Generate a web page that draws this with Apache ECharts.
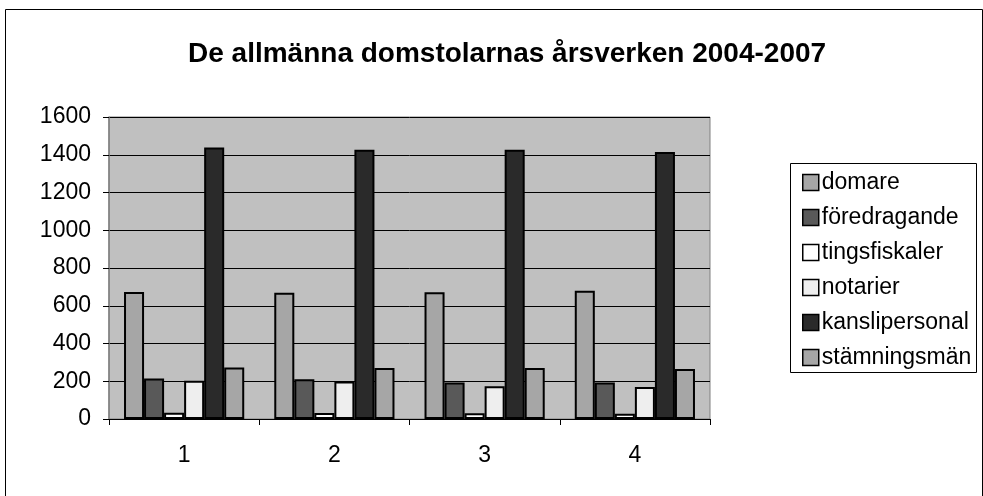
<!DOCTYPE html>
<html>
<head>
<meta charset="utf-8">
<script src="https://cdn.jsdelivr.net/npm/echarts@6/dist/echarts.min.js"></script>
<style>
  html, body { margin: 0; padding: 0; background: #fff; }
  #chart { width: 983px; height: 496px; }
</style>
</head>
<body>
<div id="chart"></div>
<script>
// kategorier (år 2004-2007 visas som 1-4)
const categories = ['1', '2', '3', '4'];

const domare = [673, 669, 671, 680];
const foredragande = [215, 210, 194, 194];
const tingsfiskaler = [33, 32, 30, 28];
const notarier = [203, 199, 173, 170];
const kanslipersonal = [1439, 1427, 1427, 1415];
const stamningsman = [273, 270, 270, 265];

const yTicks = [0, 200, 400, 600, 800, 1000, 1200, 1400, 1600];

const font = '"Liberation Sans", Arial, sans-serif';

const chart = echarts.init(document.getElementById('chart'));

const mkSeries = (name, data, color) => ({
    name: name,
    type: 'bar',
    data: data,
    barGap: '0%',
    barCategoryGap: '20%',
    itemStyle: {
        color: color,
        borderColor: '#000',
        borderWidth: 2
    },
    emphasis: {disabled: true}
});

chart.setOption({
    animation: false,
    backgroundColor: '#fff',
    textStyle: {fontFamily: font},
    title: {
        text: 'De allmänna domstolarnas årsverken 2004-2007',
        left: 188,
        top: 40,
        padding: 0,
        textStyle: {
            fontFamily: font,
            fontSize: 28,
            fontWeight: 'bold',
            color: '#000'
        }
    },
    graphic: [
        {
            type: 'rect',
            shape: {x: 5.5, y: 9.5, width: 977, height: 500},
            style: {fill: 'none', stroke: '#000', lineWidth: 1}
        },
        {
            type: 'rect',
            shape: {x: 790.5, y: 163.5, width: 186, height: 209},
            style: {fill: '#fff', stroke: '#000', lineWidth: 1},
            z: -1
        }
    ],
    legend: {
        orient: 'vertical',
        left: 797,
        top: 165,
        itemWidth: 16,
        itemHeight: 16,
        itemGap: 10,
        icon: 'rect',
        itemStyle: {borderColor: '#000', borderWidth: 1.5},
        textStyle: {
            fontFamily: font,
            fontSize: 23,
            lineHeight: 25,
            color: '#000',
            padding: [0, 0, 0, -2]
        },
        selectedMode: false
    },
    grid: {
        left: 109,
        top: 117,
        width: 601,
        height: 302,
        show: true,
        backgroundColor: '#c0c0c0',
        borderColor: '#808080',
        borderWidth: 1
    },
    xAxis: {
        type: 'category',
        data: categories,
        axisLine: {lineStyle: {color: '#000', width: 1}},
        axisTick: {show: true, length: 6, lineStyle: {color: '#000'}},
        axisLabel: {
            fontFamily: font,
            fontSize: 23,
            color: '#000',
            margin: 25
        }
    },
    yAxis: {
        type: 'value',
        min: yTicks[0],
        max: yTicks[yTicks.length - 1],
        interval: 200,
        axisLine: {show: true, lineStyle: {color: '#808080', width: 1.5}},
        axisTick: {show: true, length: 6, lineStyle: {color: '#000'}},
        axisLabel: {
            fontFamily: font,
            fontSize: 23,
            color: '#000',
            margin: 18,
            formatter: v => String(v)
        },
        splitLine: {lineStyle: {color: '#000', width: 1}}
    },
    series: [
        mkSeries('domare', domare, '#a6a6a6'),
        mkSeries('föredragande', foredragande, '#595959'),
        mkSeries('tingsfiskaler', tingsfiskaler, '#ffffff'),
        mkSeries('notarier', notarier, '#eeeeee'),
        mkSeries('kanslipersonal', kanslipersonal, '#2a2a2a'),
        mkSeries('stämningsmän', stamningsman, '#a6a6a6')
    ]
});
</script>
</body>
</html>
